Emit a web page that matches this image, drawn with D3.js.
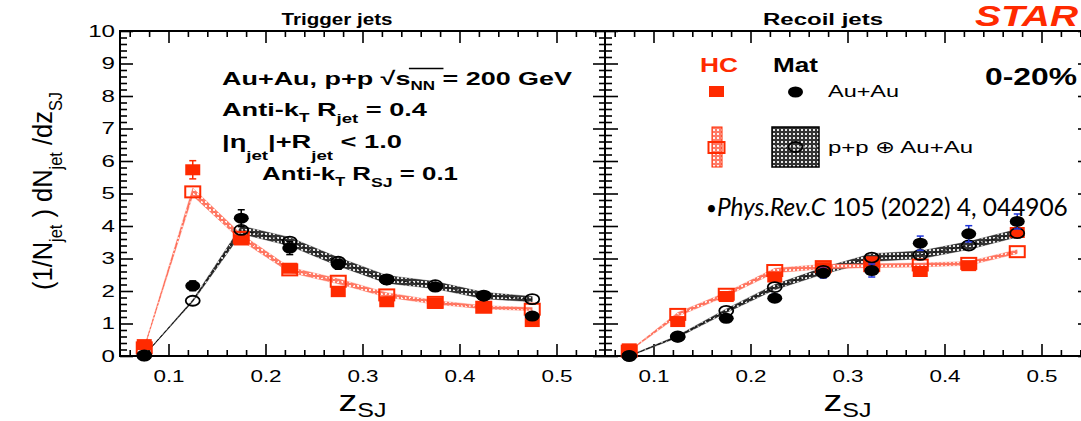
<!DOCTYPE html>
<html>
<head>
<meta charset="utf-8">
<script src="https://cdn.jsdelivr.net/npm/d3@7"></script>
<style>
  html, body { margin: 0; padding: 0; background: #fff; }
  svg { display: block; font-family: "Liberation Sans", Arial, Helvetica, sans-serif; }
</style>
</head>
<body>
<svg id="chart" width="1081" height="421"></svg>
<script>
// ---- data: sub-jet momentum fraction z_SJ, 0-20% Au+Au vs p+p (+) Au+Au ----
const zBins = [0.075, 0.125, 0.175, 0.225, 0.275, 0.325, 0.375, 0.425, 0.475];

// Trigger jets
const trigHcAuAu     = [0.35, 5.73, 3.57, 2.70, 1.98, 1.67, 1.62, 1.52, 1.06];
const trigHcAuAuErr  = [0.08, 0.28, 0.10, 0.12, 0.10, 0.08, 0.07, 0.07, 0.06];
const trigHcPP       = [0.25, 5.05, 3.65, 2.65, 2.30, 1.88, 1.65, 1.50, 1.44];
const trigHcPPSys    = [0.02, 0.12, 0.10, 0.08, 0.08, 0.07, 0.06, 0.05, 0.05];
const trigMatAuAu    = [0.00, 2.16, 4.24, 3.32, 2.82, 2.34, 2.12, 1.85, 1.23];
const trigMatAuAuErr = [0.04, 0.15, 0.26, 0.20, 0.15, 0.12, 0.12, 0.10, 0.10];
const trigMatPP      = [0.02, 1.70, 3.88, 3.52, 2.90, 2.36, 2.18, 1.86, 1.75];
const trigMatPPSys   = [0.01, 0.03, 0.12, 0.13, 0.13, 0.12, 0.11, 0.10, 0.08];

// Recoil jets
const recHcAuAu      = [0.22, 1.06, 1.83, 2.43, 2.72, 2.90, 2.60, 2.78, 3.80];
const recHcAuAuErr   = [0.06, 0.10, 0.10, 0.12, 0.10, 0.10, 0.12, 0.10, 0.10];
const recHcPP        = [0.15, 1.28, 1.90, 2.63, 2.75, 2.78, 2.80, 2.85, 3.21];
const recHcPPSys     = [0.01, 0.06, 0.06, 0.07, 0.07, 0.06, 0.06, 0.06, 0.06];
const recMatAuAu     = [0.00, 0.58, 1.16, 1.78, 2.55, 2.63, 3.47, 3.76, 4.14];
const recMatAuAuErr  = [0.04, 0.08, 0.10, 0.12, 0.15, 0.20, 0.22, 0.25, 0.23];
const recMatPP       = [0.00, 0.60, 1.39, 2.12, 2.62, 3.03, 3.11, 3.40, 3.78];
const recMatPPSys    = [0.01, 0.03, 0.06, 0.08, 0.10, 0.12, 0.12, 0.12, 0.12];

// axis ticks
const majorX = [0.1, 0.2, 0.3, 0.4, 0.5];
const xTickLabels = ["0.1", "0.2", "0.3", "0.4", "0.5"];
const minorX = d3.range(6, 55, 2).map(v => v / 100).filter(v => Math.round(v * 100) % 10 !== 0);
const majorY = d3.range(0, 11);
const yTickLabels = ["0", "1", "2", "3", "4", "5", "6", "7", "8", "9", "10"];
const minorY = d3.range(1, 50).map(v => v / 5).filter(v => Math.abs(v - Math.round(v)) > 1e-6);

// ---- drawing ----
const RED = "#ff2a00", BLUE = "#1f35d8", FONT = "\"Liberation Sans\", Arial, Helvetica, sans-serif";
const svg = d3.select("#chart");

const y = d3.scaleLinear().domain([0, 10]).range([356, 31]);
const panels = [
  { x: d3.scaleLinear().domain([0.05, 0.55]).range([120, 605]), labels: true,
    title: "Trigger jets", titleX: 337, titleW: 111,
    hc: trigHcAuAu, hcErr: trigHcAuAuErr, hcPP: trigHcPP, hcSys: trigHcPPSys,
    mat: trigMatAuAu, matErr: trigMatAuAuErr, matPP: trigMatPP, matSys: trigMatPPSys, matErrColor: "#000" },
  { x: d3.scaleLinear().domain([0.05, 0.55]).range([605, 1090]), labels: false,
    title: "Recoil jets", titleX: 823, titleW: 120,
    hc: recHcAuAu, hcErr: recHcAuAuErr, hcPP: recHcPP, hcSys: recHcPPSys,
    mat: recMatAuAu, matErr: recMatAuAuErr, matPP: recMatPP, matSys: recMatPPSys, matErrColor: BLUE }
];

// hatched fill patterns for the systematic bands
const defs = svg.append("defs");
function hatch(id, bg, dot) {
  const p = defs.append("pattern").attr("id", id).attr("patternUnits", "userSpaceOnUse")
    .attr("width", 4).attr("height", 4);
  p.append("rect").attr("width", 4).attr("height", 4).attr("fill", bg);
  p.append("rect").attr("x", 1).attr("y", 1).attr("width", 2).attr("height", 2).attr("fill", dot);
}
hatch("hatchBlack", "#333333", "#e8e8e8");
hatch("hatchRed", "#ff7a66", "#fff4f2");

// text with optional sub-scripts, stretched to a given width
function richText(g, x, yy, parts, o) {
  const t = g.append("text").attr("x", x).attr("y", yy)
    .attr("font-family", o.family || FONT)
    .attr("font-size", o.size).attr("font-weight", o.weight || "normal")
    .attr("font-style", o.style || "normal")
    .attr("fill", o.fill || "#000").attr("text-anchor", o.anchor || "start");
  if (o.transform) t.attr("transform", o.transform);
  parts.forEach(pt => {
    const s = t.append("tspan").text(pt.t);
    if (pt.size) s.attr("font-size", pt.size);
    if (pt.dy) s.attr("dy", pt.dy);
    if (pt.style) s.attr("font-style", pt.style);
    if (pt.weight) s.attr("font-weight", pt.weight);
  });
  if (o.width) t.attr("textLength", o.width).attr("lengthAdjust", "spacingAndGlyphs");
  return t;
}

function stretchLabels(sel, k) {
  sel.each(function () {
    const w = this.getComputedTextLength();
    d3.select(this).attr("textLength", w * k).attr("lengthAdjust", "spacingAndGlyphs");
  });
}

function drawAxes(g, p) {
  const x = p.x;
  const [x0, x1] = x.range();
  const ax = g.append("g");
  const mk = (axis, tx, ty) => ax.append("g").attr("transform", `translate(${tx},${ty})`).call(axis);

  const bottom = mk(d3.axisBottom(x).tickValues(majorX).tickFormat((d, i) => xTickLabels[i])
      .tickSize(-12).tickSizeOuter(0).tickPadding(14), 0, y(0));
  mk(d3.axisBottom(x).tickValues(minorX).tickFormat("").tickSize(-6).tickSizeOuter(0), 0, y(0));
  mk(d3.axisTop(x).tickValues(majorX).tickFormat("").tickSize(-12).tickSizeOuter(0), 0, y(10));
  mk(d3.axisTop(x).tickValues(minorX).tickFormat("").tickSize(-6).tickSizeOuter(0), 0, y(10));

  const left = mk(d3.axisLeft(y).tickValues(majorY)
      .tickFormat(p.labels ? (d, i) => yTickLabels[i] : "")
      .tickSize(-13).tickSizeOuter(0).tickPadding(5), x0, 0);
  mk(d3.axisLeft(y).tickValues(minorY).tickFormat("").tickSize(-7).tickSizeOuter(0), x0, 0);
  mk(d3.axisRight(y).tickValues(majorY).tickFormat("").tickSize(-12).tickSizeOuter(0), x1, 0);
  mk(d3.axisRight(y).tickValues(minorY).tickFormat("").tickSize(-6).tickSizeOuter(0), x1, 0);

  ax.selectAll(".domain").remove();
  ax.selectAll("g").attr("font-family", null).attr("font-size", null);
  ax.selectAll(".tick line").attr("stroke", "#000").attr("stroke-width", 1.6);
  ax.selectAll(".tick text").attr("fill", "#000").attr("font-family", FONT).attr("font-size", 17);
  stretchLabels(bottom.selectAll(".tick text"), 1.32);
  stretchLabels(left.selectAll(".tick text"), 1.42);

  g.append("rect").attr("x", x0).attr("y", y(10)).attr("width", x1 - x0).attr("height", y(0) - y(10))
    .attr("fill", "none").attr("stroke", "#000").attr("stroke-width", 2);
}

function band(g, x, vals, sys, fillId, lineColor, dash) {
  const rows = d3.zip(zBins, vals, sys);
  const area = d3.area().x(d => x(d[0])).y0(d => y(d[1] - d[2])).y1(d => y(d[1] + d[2]));
  g.append("path").datum(rows).attr("d", area).attr("fill", `url(#${fillId})`)
    .attr("stroke", lineColor).attr("stroke-width", 0.6).attr("stroke-opacity", 0.6);
  const line = d3.line().x(d => x(d[0])).y(d => y(d[1]));
  g.append("path").datum(rows).attr("d", line).attr("fill", "none")
    .attr("stroke", lineColor).attr("stroke-width", 1).attr("stroke-dasharray", dash);
}

function errorBars(g, x, vals, errs, color) {
  const rows = d3.zip(zBins, vals, errs);
  const e = g.append("g").attr("stroke", color).attr("stroke-width", 1.5);
  rows.forEach(([z, v, er]) => {
    const cx = x(z), ya = y(v + er), yb = y(Math.max(0, v - er));
    e.append("line").attr("x1", cx).attr("x2", cx).attr("y1", ya).attr("y2", yb);
    e.append("line").attr("x1", cx - 3.5).attr("x2", cx + 3.5).attr("y1", ya).attr("y2", ya);
    e.append("line").attr("x1", cx - 3.5).attr("x2", cx + 3.5).attr("y1", yb).attr("y2", yb);
  });
}

function squares(g, x, vals, filled) {
  g.append("g").selectAll("rect").data(d3.zip(zBins, vals)).join("rect")
    .attr("x", d => x(d[0]) - 7.5).attr("y", d => y(d[1]) - 5.5)
    .attr("width", 15).attr("height", 11)
    .attr("fill", filled ? RED : "none")
    .attr("stroke", RED).attr("stroke-width", filled ? 0 : 2);
}

function circles(g, x, vals, filled) {
  g.append("g").selectAll("ellipse").data(d3.zip(zBins, vals)).join("ellipse")
    .attr("cx", d => x(d[0])).attr("cy", d => y(d[1]))
    .attr("rx", filled ? 7.5 : 7).attr("ry", filled ? 5.5 : 5)
    .attr("fill", filled ? "#000" : "none")
    .attr("stroke", "#000").attr("stroke-width", filled ? 0 : 1.8);
}

panels.forEach(p => {
  const g = svg.append("g");
  drawAxes(g, p);
  const data = g.append("g");
  band(data, p.x, p.matPP, p.matSys, "hatchBlack", "#111", "4,2");
  band(data, p.x, p.hcPP, p.hcSys, "hatchRed", "#ff6a55", "2,2");
  squares(data, p.x, p.hcPP, false);
  errorBars(data, p.x, p.hc, p.hcErr, RED);
  squares(data, p.x, p.hc, true);
  circles(data, p.x, p.matPP, false);
  errorBars(data, p.x, p.mat, p.matErr, p.matErrColor);
  circles(data, p.x, p.mat, true);

  // panel title and x-axis title
  richText(svg, p.titleX, 25, [{ t: p.title }], { size: 16, weight: "bold", anchor: "middle", width: p.titleW });
  richText(svg, p.x(0.3), 411, [{ t: "z" }, { t: "SJ", size: 20, dy: 6 }], { size: 30, anchor: "middle", width: 48 });
});

// y-axis title
richText(svg, 52, 191, [
  { t: "(1/N" }, { t: "jet", size: 18, dy: 10 }, { t: " ) dN", dy: -10 },
  { t: "jet", size: 18, dy: 10 }, { t: " /dz", dy: -10 }, { t: "SJ", size: 18, dy: 10 }
], { size: 28, anchor: "middle", width: 198, transform: "rotate(-90,52,191)" });

// collision system / jet definition block
const info = svg.append("g");
const l1 = richText(info, 222, 85, [
  { t: "Au+Au, p+p  √" }, { t: "s" }, { t: "NN", size: 12, dy: 5 }, { t: " = 200 GeV", dy: -5 }
], { size: 19, weight: "bold", width: 350 });
{
  const node = l1.node();
  const s0 = node.getEndPositionOfChar(12).x;
  const s1 = node.getEndPositionOfChar(15).x;
  info.append("line").attr("x1", s0 - 1.5).attr("x2", s1 + 1).attr("y1", 68.5).attr("y2", 68.5)
    .attr("stroke", "#000").attr("stroke-width", 1.4);
}
richText(info, 222, 116, [
  { t: "Anti-k" }, { t: "T", size: 12, dy: 6 }, { t: " R", dy: -6 }, { t: "jet", size: 13, dy: 7 }, { t: " = 0.4", dy: -7 }
], { size: 19, weight: "bold", width: 205 });
richText(info, 222, 148, [
  { t: "|η" }, { t: "jet", size: 13, dy: 12 }, { t: "|+R", dy: -12 }, { t: "jet", size: 13, dy: 12 }, { t: " < 1.0", dy: -12 }
], { size: 19, weight: "bold", width: 180 });
richText(info, 262, 180, [
  { t: "Anti-k" }, { t: "T", size: 12, dy: 6 }, { t: " R", dy: -6 }, { t: "SJ", size: 13, dy: 7 }, { t: " = 0.1", dy: -7 }
], { size: 19, weight: "bold", width: 196 });

// legend
const lg = svg.append("g");
richText(lg, 719, 72, [{ t: "HC" }], { size: 20, weight: "bold", fill: RED, anchor: "middle", width: 38 });
richText(lg, 795.5, 72, [{ t: "Mat" }], { size: 20, weight: "bold", anchor: "middle", width: 45 });
lg.append("rect").attr("x", 709).attr("y", 86).attr("width", 15).attr("height", 11).attr("fill", RED);
lg.append("ellipse").attr("cx", 795.5).attr("cy", 92).attr("rx", 7.5).attr("ry", 5.5).attr("fill", "#000");
richText(lg, 828, 97, [{ t: "Au+Au" }], { size: 17, width: 71 });
lg.append("rect").attr("x", 712).attr("y", 127).attr("width", 10).attr("height", 40)
  .attr("fill", "url(#hatchRed)").attr("stroke", RED).attr("stroke-width", 1);
lg.append("rect").attr("x", 708.5).attr("y", 142).attr("width", 16).attr("height", 11)
  .attr("fill", "none").attr("stroke", RED).attr("stroke-width", 2);
lg.append("rect").attr("x", 772).attr("y", 127).attr("width", 47).attr("height", 40)
  .attr("fill", "url(#hatchBlack)").attr("stroke", "#000").attr("stroke-width", 1.5);
lg.append("line").attr("x1", 773).attr("x2", 818).attr("y1", 147).attr("y2", 147)
  .attr("stroke", "#eee").attr("stroke-width", 1).attr("stroke-dasharray", "3,2");
lg.append("ellipse").attr("cx", 795.5).attr("cy", 147).attr("rx", 7).attr("ry", 5)
  .attr("fill", "none").attr("stroke", "#000").attr("stroke-width", 1.8);
richText(lg, 828, 153, [{ t: "p+p ⊕ Au+Au" }], { size: 17, width: 145 });
richText(lg, 985, 85, [{ t: "0-20%" }], { size: 23, weight: "bold", width: 92 });

// experiment tag and reference
richText(svg, 975, 26, [{ t: "STAR" }], { size: 29, weight: "bold", style: "italic", fill: RED, width: 103 });
{
  // citation: font size chosen so the line spans its intended width
  const citeW = 362;
  const cite = richText(svg, 706, 216, [
    { t: "•", size: 20, dy: -1 }, { t: "Phys.Rev.C", style: "italic", dy: 1 }, { t: " 105 (2022) 4, 044906" }
  ], { size: 26, family: "Lato, \"Open Sans\", sans-serif" });
  const natural = cite.node().getComputedTextLength();
  const k = citeW / natural;
  cite.attr("font-size", 26 * k);
  cite.select("tspan").attr("font-size", 20 * k);
}
</script>
</body>
</html>
